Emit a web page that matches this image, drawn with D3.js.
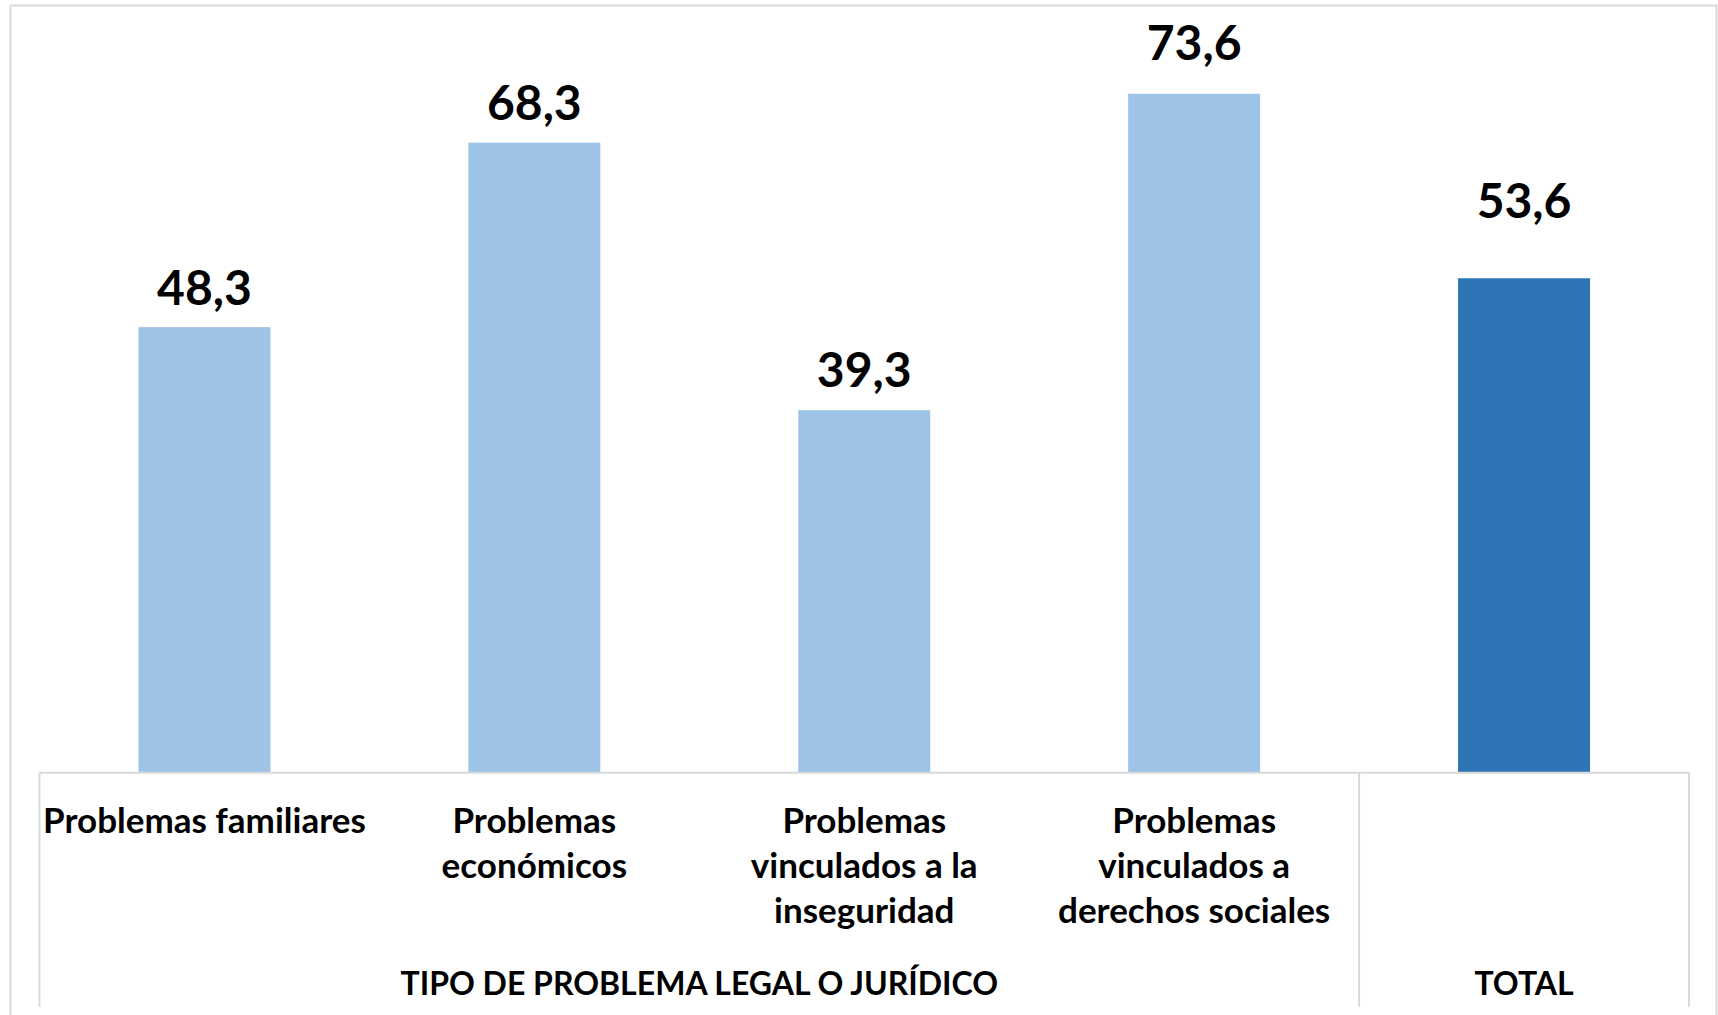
<!DOCTYPE html>
<html>
<head>
<meta charset="utf-8">
<script src="https://cdn.jsdelivr.net/npm/d3@7"></script>
<style>
  body { margin: 0; background: #fff; }
  text { font-family: Lato, "Open Sans", sans-serif; font-weight: bold; fill: #000; }
</style>
</head>
<body>
<div id="chart"></div>
<script>
// 資料
var categories = [
  ["Problemas familiares"],
  ["Problemas", "económicos"],
  ["Problemas", "vinculados a la", "inseguridad"],
  ["Problemas", "vinculados a", "derechos sociales"],
  [""]
];
var values = [48.3, 68.3, 39.3, 73.6, 53.6];
var groups = [
  { name: "TIPO DE PROBLEMA LEGAL O JURÍDICO", from: 0, to: 3 },
  { name: "TOTAL", from: 4, to: 4 }
];
var barColors = ["#9DC3E6", "#9DC3E6", "#9DC3E6", "#9DC3E6", "#2E75B6"];

var width = 1718, height = 1015;
var left = 39.5, right = 1689, baseY = 772.7, topY = 34.7, tableBottom = 1006.7;
// 數值標籤與長條頂端的距離 (原圖手動調整過)
var labelGap = [22, 23, 23, 34, 60];

var svg = d3.select("#chart").append("svg")
  .attr("width", width)
  .attr("height", height);

// 外框
svg.append("rect")
  .attr("x", 10.5).attr("y", 5.5)
  .attr("width", 1706).attr("height", 1030)
  .attr("fill", "none")
  .attr("stroke", "#d9d9d9")
  .attr("stroke-width", 2);

var x = d3.scaleBand()
  .domain(d3.range(values.length))
  .range([left, right])
  .paddingInner(0.6)
  .paddingOuter(0.3);

var y = d3.scaleLinear()
  .domain([0, 80])
  .range([baseY, topY]);

// 長條
svg.selectAll("rect.bar")
  .data(values)
  .enter().append("rect")
  .attr("class", "bar")
  .attr("x", (d, i) => x(i))
  .attr("y", d => y(d))
  .attr("width", x.bandwidth())
  .attr("height", d => y(0) - y(d))
  .attr("fill", (d, i) => barColors[i]);

// 數值標籤
svg.selectAll("text.value")
  .data(values)
  .enter().append("text")
  .attr("class", "value")
  .attr("x", (d, i) => x(i) + x.bandwidth() / 2)
  .attr("y", (d, i) => y(d) - labelGap[i])
  .attr("text-anchor", "middle")
  .style("font-size", "48px")
  .text(d => d3.format(".1f")(d).replace(".", ","));

// 類別表格線
var step = x.step();
var edge = i => left + i * step;
var table = svg.append("g")
  .attr("stroke", "#d9d9d9")
  .attr("stroke-width", 2);
table.append("line")
  .attr("x1", left).attr("x2", right)
  .attr("y1", baseY).attr("y2", baseY);
[0, groups[1].from, values.length].forEach(function (i) {
  table.append("line")
    .attr("x1", edge(i)).attr("x2", edge(i))
    .attr("y1", baseY).attr("y2", tableBottom);
});

// 類別標籤
svg.selectAll("text.cat")
  .data(categories)
  .enter().append("text")
  .attr("class", "cat")
  .attr("text-anchor", "middle")
  .style("font-size", "35px")
  .each(function (lines, i) {
    var t = d3.select(this);
    lines.forEach(function (line, k) {
      t.append("tspan")
        .attr("x", x(i) + x.bandwidth() / 2)
        .attr("y", 833.3 + k * 44.8)
        .text(line);
    });
  });

// 群組標籤
svg.selectAll("text.group")
  .data(groups)
  .enter().append("text")
  .attr("class", "group")
  .attr("text-anchor", "middle")
  .style("font-size", "32px")
  .attr("x", d => (edge(d.from) + edge(d.to + 1)) / 2)
  .attr("y", 995)
  .text(d => d.name);
</script>
</body>
</html>
